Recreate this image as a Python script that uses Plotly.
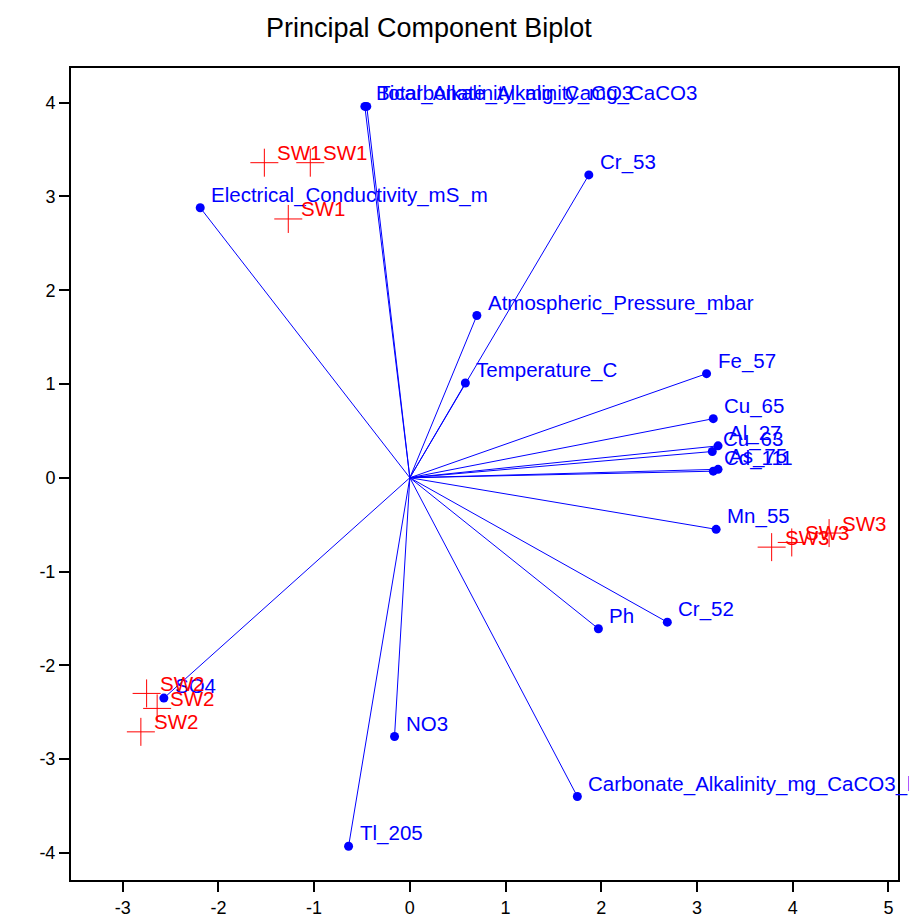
import plotly.graph_objects as go

# Variable loadings (vector endpoints)
var_names = ["Bicarbonate_Alkalinity_mg_CaCO3", "Total_Alkalinity_mg_CaCO3", "Cr_53",
             "Electrical_Conductivity_mS_m", "Atmospheric_Pressure_mbar", "Temperature_C",
             "Fe_57", "Cu_65", "Al_27", "Cu_63", "As_75", "Cd_111", "Mn_55", "Cr_52", "Ph",
             "Carbonate_Alkalinity_mg_CaCO3_l", "NO3", "Tl_205", "SO4"]
var_x = [-0.47, -0.45, 1.87, -2.19, 0.70, 0.58, 3.10, 3.17, 3.22, 3.16, 3.22, 3.17, 3.20,
         2.69, 1.97, 1.75, -0.16, -0.64, -2.57]
var_y = [3.96, 3.96, 3.23, 2.88, 1.73, 1.01, 1.11, 0.63, 0.34, 0.28, 0.09, 0.07, -0.55,
         -1.54, -1.61, -3.40, -2.76, -3.93, -2.35]

# Sample scores
sample_names = ["SW1", "SW1", "SW1", "SW2", "SW2", "SW2", "SW3", "SW3", "SW3"]
sample_x = [-1.52, -1.04, -1.27, -2.75, -2.64, -2.81, 3.78, 3.99, 4.38]
sample_y = [3.36, 3.36, 2.76, -2.30, -2.46, -2.71, -0.74, -0.69, -0.59]

x_ticks = [-3, -2, -1, 0, 1, 2, 3, 4, 5]
x_labels = ["-3", "-2", "-1", "0", "1", "2", "3", "4", "5"]
y_ticks = [-4, -3, -2, -1, 0, 1, 2, 3, 4]
y_labels = ["-4", "-3", "-2", "-1", "0", "1", "2", "3", "4"]

BLUE = "#0000FF"
RED = "#FF0000"
FONT = "Liberation Sans, Arial, sans-serif"

fig = go.Figure()

# vector lines from origin
lx, ly = [], []
for x, y in zip(var_x, var_y):
    lx += [0, x, None]
    ly += [0, y, None]
fig.add_trace(go.Scatter(x=lx, y=ly, mode="lines", line=dict(color=BLUE, width=1),
                         hoverinfo="skip", showlegend=False))
fig.add_trace(go.Scatter(x=var_x, y=var_y, mode="markers",
                         marker=dict(color=BLUE, size=9, symbol="circle"),
                         text=var_names, showlegend=False))
fig.add_trace(go.Scatter(x=sample_x, y=sample_y, mode="markers",
                         marker=dict(symbol="cross-thin", size=20, color=RED,
                                     line=dict(color=RED, width=1)),
                         text=sample_names, showlegend=False))

annotations = []
for n, x, y in zip(var_names, var_x, var_y):
    annotations.append(dict(x=x, y=y, text=n, showarrow=False, xanchor="left", yanchor="middle",
                            xshift=9, yshift=13, font=dict(color=BLUE, size=20.5, family=FONT)))
for n, x, y in zip(sample_names, sample_x, sample_y):
    annotations.append(dict(x=x, y=y, text=n, showarrow=False, xanchor="left", yanchor="middle",
                            xshift=11, yshift=10, font=dict(color=RED, size=20.5, family=FONT)))

fig.update_layout(
    width=909, height=911,
    margin=dict(l=63, r=19, t=60, b=39),
    paper_bgcolor="white", plot_bgcolor="white",
    title=dict(text="Principal Component Biplot", x=0.463, xanchor="center", y=0.978, yanchor="middle",
               font=dict(size=27, color="black", family=FONT)),
    font=dict(family=FONT, color="black"),
    annotations=annotations,
    xaxis=dict(range=[-3.54, 5.10], tickvals=x_ticks, ticktext=x_labels, ticks="outside",
               ticklen=10, tickwidth=2, automargin=False,
               tickcolor="black", showgrid=False, zeroline=False, showline=True, linecolor="black",
               linewidth=2, mirror=True, tickfont=dict(size=18, family=FONT)),
    yaxis=dict(range=[-4.29, 4.37], tickvals=y_ticks, ticktext=y_labels, ticks="outside",
               ticklen=10, tickwidth=2, automargin=False,
               tickcolor="black", showgrid=False, zeroline=False, showline=True, linecolor="black",
               linewidth=2, mirror=True, tickfont=dict(size=18, family=FONT)),
)

fig.write_html("out.html")
